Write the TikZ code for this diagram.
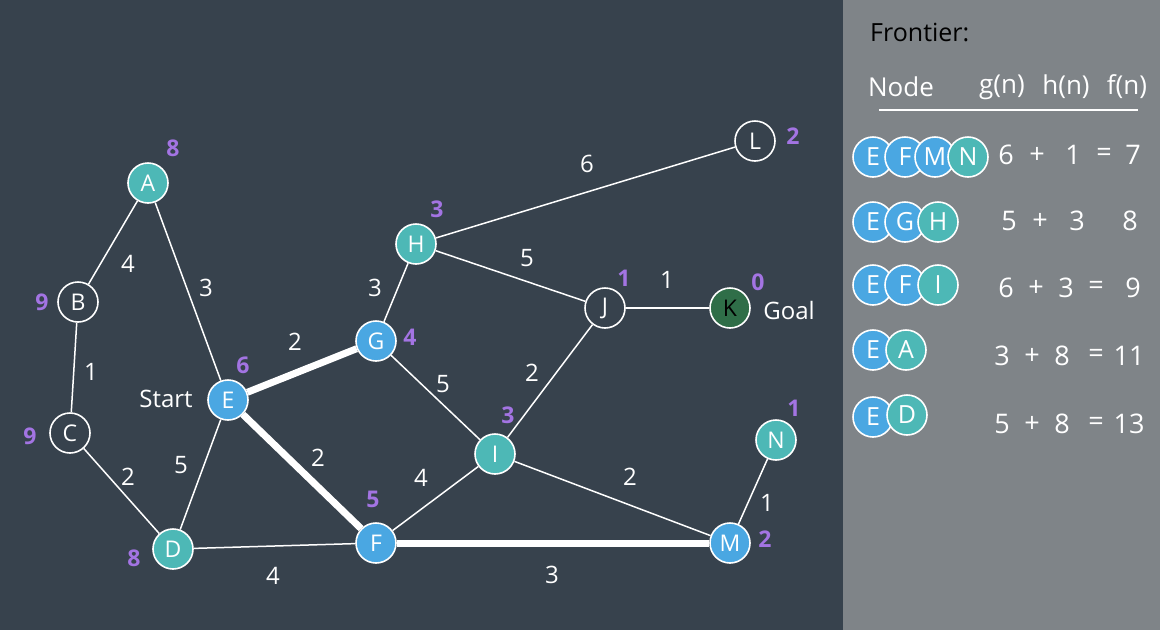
\documentclass[tikz,border=0pt]{standalone}
\usepackage{fontspec}
\setmainfont{Open Sans}
\definecolor{cbg}{HTML}{37424D}
\definecolor{cpanel}{HTML}{7F8488}
\definecolor{cblue}{HTML}{4AA7E2}
\definecolor{cteal}{HTML}{4DB8B6}
\definecolor{cgreen}{HTML}{2F6E48}
\definecolor{cpurple}{HTML}{A374E3}
\begin{document}
\begin{tikzpicture}[x=1pt,y=-1pt,
  gn/.style={circle, draw=white, line width=1.6pt, minimum size=40pt, inner sep=0pt, text=white, font=\fontsize{23}{23}\selectfont},
  bnode/.style={gn, fill=cblue},
  tnode/.style={gn, fill=cteal},
  onode/.style={gn, fill=cbg},
  knode/.style={gn, fill=cgreen, text=black},
  fb/.style={bnode, font=\fontsize{25}{25}\selectfont},
  fteal/.style={tnode, font=\fontsize{25}{25}\selectfont},
  hv/.style={text=cpurple, font=\fontsize{23}{23}\selectfont\bfseries},
  wt/.style={text=white, font=\fontsize{24}{24}\selectfont},
  edge/.style={draw=white, line width=1.5pt},
  pathedge/.style={draw=white, line width=7pt},
  ft/.style={text=white, font=\fontsize{27}{27}\selectfont},
  hd/.style={text=white, font=\fontsize{26}{26}\selectfont},
]
\useasboundingbox (0,0) rectangle (1160,630);
\fill[cbg] (0,0) rectangle (843,630);
\fill[cpanel] (843,0) rectangle (1160,630);

% graph nodes
\node[tnode] (A) at (148,183) {A};
\node[onode] (B) at (78,302) {B};
\node[onode] (C) at (70,433) {C};
\node[tnode] (D) at (173,549) {D};
\node[bnode] (E) at (228,400) {E};
\node[bnode] (F) at (376,543) {F};
\node[bnode] (G) at (376,341) {G};
\node[tnode] (H) at (416,244) {H};
\node[tnode] (I) at (495,454) {I};
\node[onode] (J) at (605,308) {J};
\node[knode] (K) at (730,308) {K};
\node[onode] (L) at (755,141) {L};
\node[bnode] (M) at (730,543) {M};
\node[tnode] (N) at (776,440) {N};

% edges
\draw[edge] (A) -- (B);
\draw[edge] (A) -- (E);
\draw[edge] (B) -- (C);
\draw[edge] (C) -- (D);
\draw[edge] (D) -- (E);
\draw[edge] (D) -- (F);
\draw[edge] (G) -- (H);
\draw[edge] (G) -- (I);
\draw[edge] (H) -- (L);
\draw[edge] (H) -- (J);
\draw[edge] (I) -- (J);
\draw[edge] (J) -- (K);
\draw[edge] (F) -- (I);
\draw[edge] (I) -- (M);
\draw[edge] (M) -- (N);
\draw[pathedge] (E) -- (G);
\draw[pathedge] (E) -- (F);
\draw[pathedge] (F) -- (M);

% heuristic values
\node[hv] (hA) at (173,148) {8};
\node[hv] (hB) at (42,302) {9};
\node[hv] (hC) at (30,436) {9};
\node[hv] (hD) at (134,558) {8};
\node[hv] (hE) at (243,365) {6};
\node[hv] (hF) at (373,499) {5};
\node[hv] (hG) at (410,337) {4};
\node[hv] (hH) at (437,209) {3};
\node[hv] (hI) at (508,415) {3};
\node[hv] (hJ) at (624,278) {1};
\node[hv] (hK) at (758,282) {0};
\node[hv] (hL) at (793,136) {2};
\node[hv] (hM) at (765,539) {2};
\node[hv] (hN) at (794,408) {1};

% edge weights
\node[wt] (wAB) at (128,264) {4};
\node[wt] (wAE) at (206,288) {3};
\node[wt] (wBC) at (91,372) {1};
\node[wt] (wCD) at (128,477) {2};
\node[wt] (wDE) at (181,465) {5};
\node[wt] (wDF) at (273,576) {4};
\node[wt] (wEG) at (295,342) {2};
\node[wt] (wEF) at (318,458) {2};
\node[wt] (wGH) at (375,288) {3};
\node[wt] (wGI) at (443,384) {5};
\node[wt] (wHL) at (587,164) {6};
\node[wt] (wHJ) at (527,258) {5};
\node[wt] (wIJ) at (532,373) {2};
\node[wt] (wJK) at (667,280) {1};
\node[wt] (wFI) at (421,478) {4};
\node[wt] (wIM) at (630,477) {2};
\node[wt] (wFM) at (552,575) {3};
\node[wt] (wMN) at (767,503) {1};

\node[wt] (start) at (166,399) {Start};
\node[wt] (goal) at (789,310) {Goal};

% frontier panel
\node[text=black, font=\fontsize{25}{25}\selectfont, anchor=west, inner sep=0pt] (ftitle) at (870,32) {Frontier:};
\node[hd] (hnode) at (901,87) {Node};
\node[hd] (hg) at (1002,87) {g(n)};
\node[hd] (hh) at (1066,87) {h(n)};
\node[hd] (hf) at (1127,87) {f(n)};
\draw[white, line width=1.5pt] (879,110) -- (1138,110);

% row 1
\node[fb] (r1a) at (873,157) {E};
\node[fb] (r1b) at (905,157) {F};
\node[fb] (r1c) at (935,157) {M};
\node[fteal] (r1d) at (968,157) {N};
\node[ft] (r1g) at (1006,155) {6};
\node[ft] (r1p) at (1037,155) {+};
\node[ft] (r1h) at (1073,155) {1};
\node[ft] (r1e) at (1104,155) {=};
\node[ft] (r1f) at (1133,155) {7};
% row 2
\node[fb] (r2a) at (873,222) {E};
\node[fb] (r2b) at (905,222) {G};
\node[fteal] (r2c) at (938,222) {H};
\node[ft] (r2g) at (1009,221) {5};
\node[ft] (r2p) at (1040,221) {+};
\node[ft] (r2h) at (1077,221) {3};
\node[ft] (r2f) at (1130,221) {8};
% row 3
\node[fb] (r3a) at (873,285) {E};
\node[fb] (r3b) at (905,285) {F};
\node[fteal] (r3c) at (938,285) {I};
\node[ft] (r3g) at (1006,288) {6};
\node[ft] (r3p) at (1036,288) {+};
\node[ft] (r3h) at (1066,288) {3};
\node[ft] (r3e) at (1096,288) {=};
\node[ft] (r3f) at (1133,288) {9};
% row 4
\node[fb] (r4a) at (873,350) {E};
\node[fteal] (r4b) at (906,350) {A};
\node[ft] (r4g) at (1002,356) {3};
\node[ft] (r4p) at (1032,356) {+};
\node[ft] (r4h) at (1062,356) {8};
\node[ft] (r4e) at (1096,356) {=};
\node[ft] (r4f) at (1129,356) {11};
% row 5
\node[fb] (r5a) at (873,417) {E};
\node[fteal] (r5b) at (907,415) {D};
\node[ft] (r5g) at (1002,424) {5};
\node[ft] (r5p) at (1032,424) {+};
\node[ft] (r5h) at (1062,424) {8};
\node[ft] (r5e) at (1096,424) {=};
\node[ft] (r5f) at (1129,424) {13};
\end{tikzpicture}
\end{document}
